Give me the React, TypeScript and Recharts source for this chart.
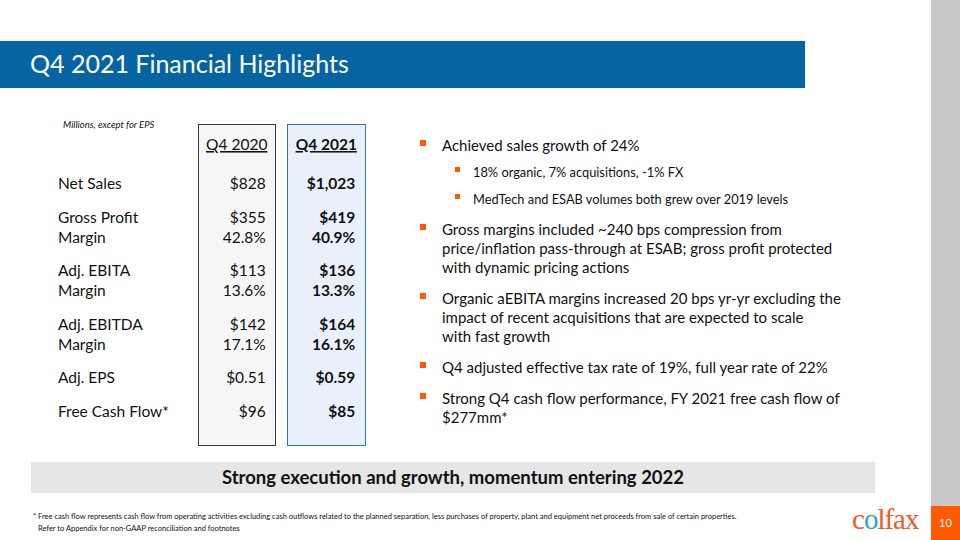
import { ScatterChart, Scatter, XAxis, YAxis } from "recharts"

// table data (Millions, except EPS)
const metrics = ["Net Sales", "Gross Profit", "Adj. EBITA", "Adj. EBITDA", "Adj. EPS", "Free Cash Flow*"]
const periods = ["Q4 2020", "Q4 2021"]
const q4_2020 = [828, 355, 113, 142, 0.51, 96]
const q4_2021 = [1023, 419, 136, 164, 0.59, 85]
const margin2020 = [null, 42.8, 13.6, 17.1, null, null]
const margin2021 = [null, 40.9, 13.3, 16.1, null, null]

const bullets = [
  { lines: ["Achieved sales growth of 24%"], subs: ["18% organic, 7% acquisitions, -1% FX", "MedTech and ESAB volumes both grew over 2019 levels"] },
  { lines: ["Gross margins included ~240 bps compression from", "price/inflation pass-through at ESAB; gross profit protected", "with dynamic pricing actions"], subs: [] },
  { lines: ["Organic aEBITA margins increased 20 bps yr-yr excluding the", "impact of recent acquisitions that are expected to scale", "with fast growth"], subs: [] },
  { lines: ["Q4 adjusted effective tax rate of 19%, full year rate of 22%"], subs: [] },
  { lines: ["Strong Q4 cash flow performance, FY 2021 free cash flow of", "$277mm*"], subs: [] },
]

const BLUE = "#0764A2"
const ORANGE = "#FF5A00"
const FONT = "Lato, 'Open Sans', sans-serif"
const MARGIN_STEP = 0.6

const fmt = (v: number, i: number) => (i === 4 ? `$${v.toFixed(2)}` : `$${v.toLocaleString("en-US")}`)

type Line = { label: string; pos: number; v: string[] }
const lines: Line[] = []
let pos = 0
metrics.forEach((m, i) => {
  lines.push({ label: m, pos, v: [fmt(q4_2020[i], i), fmt(q4_2021[i], i)] })
  const a = margin2020[i]
  const b = margin2021[i]
  if (a != null && b != null) {
    pos += MARGIN_STEP
    lines.push({ label: "Margin", pos, v: [`${a.toFixed(1)}%`, `${b.toFixed(1)}%`] })
  }
  pos += 1
})

const cells = lines.flatMap((l) => l.v.map((text, col) => ({ x: col, y: l.pos, text, bold: col === 1 })))
const labelAt = new Map(lines.map((l) => [l.pos, l.label]))

const ValueCell = (props: any) => {
  const { cx, cy, payload } = props
  return (
    <text x={cx + 29} y={cy} textAnchor="end" dominantBaseline="central" fontSize={15.5} fontFamily={FONT}
      fontWeight={payload.bold ? 700 : 400} fill="#111">
      {payload.text}
    </text>
  )
}

const RowLabel = (props: any) => {
  const { x, y, payload } = props
  return (
    <text x={x - 126} y={y} textAnchor="start" dominantBaseline="central" fontSize={15.5} fontFamily={FONT} fill="#111">
      {labelAt.get(payload.value)}
    </text>
  )
}

const ColHeader = (props: any) => {
  const { x, y, payload } = props
  return (
    <text x={x} y={y} dy={-2} textAnchor="middle" fontSize={15.5} fontFamily={FONT} fill="#111"
      fontWeight={payload.value === 1 ? 700 : 400} textDecoration="underline" style={{ textDecoration: "underline" }}>
      {periods[payload.value]}
    </text>
  )
}

function Table() {
  return (
    <ScatterChart width={380} height={460} margin={{ top: 130, right: 9, bottom: 26, left: 58 }}>
      <XAxis type="number" dataKey="x" orientation="top" domain={[-0.5, 1.5]} ticks={[0, 1]} height={30}
        axisLine={false} tickLine={false} tick={<ColHeader />} interval={0} />
      <YAxis type="number" dataKey="y" domain={[-0.7, 7.5]} reversed ticks={lines.map((l) => l.pos)} width={134}
        axisLine={false} tickLine={false} tick={<RowLabel />} interval={0} />
      <Scatter data={cells} shape={<ValueCell />} isAnimationActive={false} />
    </ScatterChart>
  )
}

export default function App() {
  let top = 133
  const blocks = bullets.map((b, i) => {
    const t = top
    top += b.lines.length * 19 + b.subs.length * 26.5 + 12
    return (
      <div key={i} style={{ position: "absolute", left: 0, top: t }}>
        <div style={{ position: "absolute", left: 420, top: 7, width: 6, height: 6, background: ORANGE }} />
        {b.lines.map((s, j) => (
          <div key={j} style={{ position: "absolute", left: 442, top: j * 19, whiteSpace: "nowrap", fontSize: 15, lineHeight: "24px" }}>{s}</div>
        ))}
        {b.subs.map((s, j) => (
          <div key={"s" + j} style={{ position: "absolute", left: 0, top: b.lines.length * 19 + 12 + j * 26.5 }}>
            <div style={{ position: "absolute", left: 455, top: 3, width: 5, height: 5, background: ORANGE }} />
            <div style={{ position: "absolute", left: 473, top: 0, whiteSpace: "nowrap", fontSize: 12.8, lineHeight: "16px" }}>{s}</div>
          </div>
        ))}
      </div>
    )
  })

  return (
    <div style={{ position: "absolute", left: 0, top: 0, width: 960, height: 540, overflow: "hidden", background: "#fff", fontFamily: FONT, color: "#111" }}>
      <div style={{ position: "absolute", left: 0, top: 41, width: 805, height: 47, background: BLUE }}>
        <div style={{ position: "absolute", left: 30, top: 7, color: "#fff", fontSize: 25, whiteSpace: "nowrap" }}>Q4 2021 Financial Highlights</div>
      </div>
      <div style={{ position: "absolute", left: 931, top: 0, width: 29, height: 506, background: "#C8C8C8" }} />
      <div style={{ position: "absolute", left: 931, top: 506, width: 29, height: 34, background: ORANGE, color: "#fff", fontSize: 11, textAlign: "center", lineHeight: "34px" }}>10</div>

      <div style={{ position: "absolute", left: 63, top: 119, fontSize: 9.5, fontStyle: "italic" }}>Millions, except for EPS</div>
      <div style={{ position: "absolute", left: 198, top: 124, width: 76, height: 320, background: "#F6F6F6", border: "1.5px solid #3a3a3a" }} />
      <div style={{ position: "absolute", left: 287, top: 124, width: 77, height: 320, background: "#EAF0F9", border: "1.5px solid #2E75B6" }} />
      <div style={{ position: "absolute", left: 0, top: 0 }}>
        <Table />
      </div>

      {blocks}

      <div style={{ position: "absolute", left: 31, top: 462, width: 844, height: 31, background: "#E6E6E6", textAlign: "center", fontWeight: 700, fontSize: 18.5, lineHeight: "31px" }}>
        Strong execution and growth, momentum entering 2022
      </div>
      <div style={{ position: "absolute", left: 33, top: 512, fontSize: 7.5, whiteSpace: "nowrap" }}>
        * Free cash flow represents cash flow from operating activities excluding cash outflows related to the planned separation, less purchases of property, plant and equipment net proceeds from sale of certain properties.
      </div>
      <div style={{ position: "absolute", left: 38, top: 524, fontSize: 7.5, whiteSpace: "nowrap" }}>
        Refer to Appendix for non-GAAP reconciliation and footnotes
      </div>
      <div style={{ position: "absolute", left: 852, top: 503, fontSize: 29, fontFamily: "'Liberation Serif', 'DejaVu Serif', serif", color: "#F15A24", letterSpacing: -1, whiteSpace: "nowrap" }}>
        c<span style={{ color: "#2BA6C8" }}>o</span>lfax
      </div>
    </div>
  )
}
